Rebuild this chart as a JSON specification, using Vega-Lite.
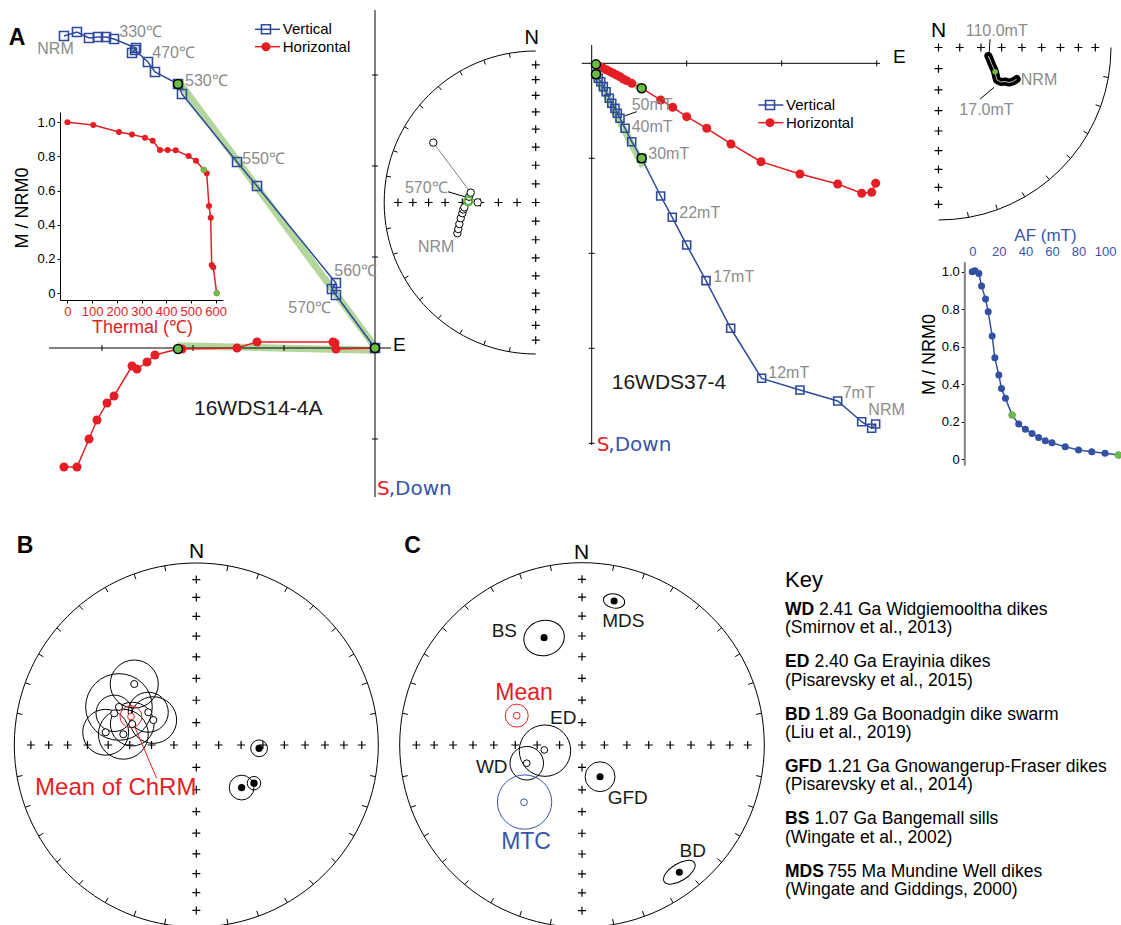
{
"$schema": "https://vega.github.io/schema/vega-lite/v6.json",
"width": 1121,
"height": 925,
"autosize": {"type": "none"},
"padding": 0,
"background": "white",
"config": {
  "view": {"stroke": null},
  "text": {"font": "Liberation Sans"},
  "axis": {"labelFont": "Liberation Sans", "titleFont": "Liberation Sans", "grid": false}
},
"resolve": {
  "scale": {"x": "independent", "y": "independent", "size": "independent", "shape": "independent"},
  "axis": {"x": "independent", "y": "independent"}
},
"datasets": {
  "cross": [{"x":-0.909,"y":0},{"x":-0.811,"y":0},{"x":-0.707,"y":0},{"x":-0.598,"y":0},{"x":-0.484,"y":0},{"x":-0.366,"y":0},{"x":-0.246,"y":0},{"x":-0.123,"y":0},{"x":0,"y":0},{"x":0.123,"y":0},{"x":0.246,"y":0},{"x":0.366,"y":0},{"x":0.484,"y":0},{"x":0.598,"y":0},{"x":0.707,"y":0},{"x":0.811,"y":0},{"x":0.909,"y":0},{"x":0,"y":-0.909},{"x":0,"y":-0.811},{"x":0,"y":-0.707},{"x":0,"y":-0.598},{"x":0,"y":-0.484},{"x":0,"y":-0.366},{"x":0,"y":-0.246},{"x":0,"y":-0.123},{"x":0,"y":0.123},{"x":0,"y":0.246},{"x":0,"y":0.366},{"x":0,"y":0.484},{"x":0,"y":0.598},{"x":0,"y":0.707},{"x":0,"y":0.811},{"x":0,"y":0.909}],
  "z1v": [{"i":1,"x":-3.418,"y":3.429},{"i":2,"x":-3.275,"y":3.473},{"i":3,"x":-3.143,"y":3.407},{"i":4,"x":-3.044,"y":3.418},{"i":5,"x":-2.956,"y":3.418},{"i":6,"x":-2.868,"y":3.396},{"i":7,"x":-2.626,"y":3.297},{"i":8,"x":-2.67,"y":3.242},{"i":9,"x":-2.637,"y":3.275},{"i":10,"x":-2.495,"y":3.143},{"i":11,"x":-2.418,"y":3.033},{"i":12,"x":-2.165,"y":2.901},{"i":13,"x":-2.121,"y":2.791},{"i":14,"x":-1.516,"y":2.044},{"i":15,"x":-1.297,"y":1.78},{"i":16,"x":-0.429,"y":0.714},{"i":17,"x":-0.473,"y":0.648},{"i":18,"x":-0.429,"y":0.582},{"i":19,"x":0,"y":0}],
  "z1h": [{"i":1,"x":-3.418,"y":-1.308},{"i":2,"x":-3.275,"y":-1.308},{"i":3,"x":-3.143,"y":-1.0},{"i":4,"x":-3.055,"y":-0.791},{"i":5,"x":-2.945,"y":-0.604},{"i":6,"x":-2.868,"y":-0.527},{"i":7,"x":-2.67,"y":-0.198},{"i":8,"x":-2.615,"y":-0.231},{"i":9,"x":-2.505,"y":-0.154},{"i":10,"x":-2.418,"y":-0.077},{"i":11,"x":-2.165,"y":-0.011},{"i":12,"x":-2.121,"y":-0.011},{"i":13,"x":-1.516,"y":0.0},{"i":14,"x":-1.297,"y":0.066},{"i":15,"x":-0.462,"y":0.066},{"i":16,"x":-0.44,"y":0.055},{"i":17,"x":-0.429,"y":-0.011},{"i":18,"x":0,"y":0}],
  "th": [{"i":1,"t":0,"m":1.0},{"i":2,"t":104.8,"m":0.984},{"i":3,"t":208.9,"m":0.943},{"i":4,"t":261.5,"m":0.928},{"i":5,"t":314.1,"m":0.91},{"i":6,"t":345.3,"m":0.892},{"i":7,"t":374.9,"m":0.838},{"i":8,"t":406,"m":0.838},{"i":9,"t":438.4,"m":0.836},{"i":10,"t":491,"m":0.802},{"i":11,"t":520.6,"m":0.775},{"i":12,"t":551.8,"m":0.722},{"i":13,"t":564,"m":0.701},{"i":14,"t":573.3,"m":0.51},{"i":15,"t":580.1,"m":0.441},{"i":16,"t":584.2,"m":0.165},{"i":17,"t":590.6,"m":0.151},{"i":18,"t":604.4,"m":0.0}],
  "st1": [{"i":1,"x":-0.517,"y":-0.203},{"i":2,"x":-0.511,"y":-0.175},{"i":3,"x":-0.504,"y":-0.142},{"i":4,"x":-0.495,"y":-0.104},{"i":5,"x":-0.484,"y":-0.071},{"i":6,"x":-0.478,"y":-0.046},{"i":7,"x":-0.471,"y":-0.032},{"i":8,"x":-0.445,"y":0.01},{"i":9,"x":-0.383,"y":0.001},{"i":10,"x":-0.44,"y":0.038},{"i":11,"x":-0.429,"y":0.065},{"i":12,"x":-0.676,"y":0.395}],
  "z2h": [{"i":1,"x":0.045,"y":-0.011},{"i":2,"x":0.087,"y":-0.036},{"i":3,"x":0.122,"y":-0.053},{"i":4,"x":0.158,"y":-0.071},{"i":5,"x":0.193,"y":-0.088},{"i":6,"x":0.227,"y":-0.105},{"i":7,"x":0.263,"y":-0.123},{"i":8,"x":0.298,"y":-0.141},{"i":9,"x":0.333,"y":-0.165},{"i":10,"x":0.368,"y":-0.183},{"i":11,"x":0.421,"y":-0.211},{"i":12,"x":0.526,"y":-0.263},{"i":13,"x":0.726,"y":-0.386},{"i":14,"x":0.853,"y":-0.463},{"i":15,"x":1.0,"y":-0.562},{"i":16,"x":1.211,"y":-0.684},{"i":17,"x":1.466,"y":-0.849},{"i":18,"x":1.782,"y":-1.036},{"i":19,"x":2.192,"y":-1.165},{"i":20,"x":2.589,"y":-1.271},{"i":21,"x":2.842,"y":-1.368},{"i":22,"x":2.947,"y":-1.358},{"i":23,"x":2.989,"y":-1.263}],
  "z2v": [{"i":1,"x":0.045,"y":-0.116},{"i":2,"x":0.069,"y":-0.158},{"i":3,"x":0.095,"y":-0.194},{"i":4,"x":0.122,"y":-0.246},{"i":5,"x":0.151,"y":-0.299},{"i":6,"x":0.185,"y":-0.368},{"i":7,"x":0.211,"y":-0.421},{"i":8,"x":0.245,"y":-0.474},{"i":9,"x":0.269,"y":-0.526},{"i":10,"x":0.298,"y":-0.579},{"i":11,"x":0.351,"y":-0.684},{"i":12,"x":0.421,"y":-0.825},{"i":13,"x":0.526,"y":-1.0},{"i":14,"x":0.726,"y":-1.397},{"i":15,"x":0.848,"y":-1.621},{"i":16,"x":1.0,"y":-1.913},{"i":17,"x":1.203,"y":-2.288},{"i":18,"x":1.463,"y":-2.789},{"i":19,"x":1.789,"y":-3.316},{"i":20,"x":2.192,"y":-3.439},{"i":21,"x":2.589,"y":-3.555},{"i":22,"x":2.842,"y":-3.773},{"i":23,"x":2.947,"y":-3.842},{"i":24,"x":2.989,"y":-3.797}],
  "st2": [{"i":1,"x":0.289,"y":-0.049},{"i":2,"x":0.299,"y":-0.072},{"i":3,"x":0.31,"y":-0.099},{"i":4,"x":0.322,"y":-0.125},{"i":5,"x":0.328,"y":-0.142},{"i":6,"x":0.333,"y":-0.165},{"i":7,"x":0.339,"y":-0.188},{"i":8,"x":0.362,"y":-0.2},{"i":9,"x":0.386,"y":-0.197},{"i":10,"x":0.409,"y":-0.203},{"i":11,"x":0.432,"y":-0.197},{"i":12,"x":0.453,"y":-0.183}],
  "af": [{"i":1,"af":0,"m":1.0},{"i":2,"af":2,"m":1.005},{"i":3,"af":5,"m":0.99},{"i":4,"af":7,"m":0.923},{"i":5,"af":10,"m":0.854},{"i":6,"af":12,"m":0.786},{"i":7,"af":15,"m":0.657},{"i":8,"af":17,"m":0.541},{"i":9,"af":20,"m":0.449},{"i":10,"af":22,"m":0.378},{"i":11,"af":25,"m":0.325},{"i":12,"af":30,"m":0.236},{"i":13,"af":35,"m":0.188},{"i":14,"af":40,"m":0.16},{"i":15,"af":45,"m":0.138},{"i":16,"af":50,"m":0.117},{"i":17,"af":55,"m":0.099},{"i":18,"af":60,"m":0.088},{"i":19,"af":70,"m":0.067},{"i":20,"af":80,"m":0.05},{"i":21,"af":90,"m":0.041},{"i":22,"af":100,"m":0.032},{"i":23,"af":110,"m":0.023}],
  "bcirc": [{"x":-0.341,"y":0.335,"r":0.132},{"x":-0.425,"y":0.209,"r":0.183},{"x":-0.451,"y":0.174,"r":0.1},{"x":-0.264,"y":0.18,"r":0.11},{"x":-0.236,"y":0.137,"r":0.128},{"x":-0.352,"y":0.115,"r":0.12},{"x":-0.498,"y":0.07,"r":0.126},{"x":-0.401,"y":0.059,"r":0.137},{"x":0.345,"y":-0.018,"r":0.046},{"x":0.249,"y":-0.234,"r":0.068},{"x":0.317,"y":-0.21,"r":0.037}],
  "bopen": [{"x":-0.341,"y":0.335},{"x":-0.425,"y":0.209},{"x":-0.451,"y":0.174},{"x":-0.264,"y":0.18},{"x":-0.236,"y":0.137},{"x":-0.352,"y":0.115},{"x":-0.498,"y":0.07},{"x":-0.401,"y":0.059}],
  "bfill": [{"x":0.345,"y":-0.018},{"x":0.249,"y":-0.234},{"x":0.317,"y":-0.21}],
  "cconf": [{"site":"MDS","x":0.176,"y":0.79,"r":0.059,"rot":10},{"site":"BS","x":-0.208,"y":0.587,"r":0.112,"rot":-15},{"site":"GFD","x":0.099,"y":-0.174,"r":0.082,"rot":0},{"site":"BD","x":0.534,"y":-0.698,"r":0.098,"rot":-32},{"site":"ED","x":-0.203,"y":-0.031,"r":0.141,"rot":0},{"site":"WD","x":-0.303,"y":-0.1,"r":0.092,"rot":0}],
  "key": [{"i":0,"code":"WD","desc":"2.41 Ga Widgiemooltha dikes","ref":" (Smirnov et al., 2013)"},{"i":1,"code":"ED","desc":"2.40 Ga Erayinia dikes","ref":"(Pisarevsky et al., 2015)"},{"i":2,"code":"BD","desc":"1.89 Ga Boonadgin dike swarm","ref":"(Liu et al., 2019)"},{"i":3,"code":"GFD","desc":"1.21 Ga Gnowangerup-Fraser dikes","ref":"(Pisarevsky et al., 2014)"},{"i":4,"code":"BS","desc":"1.07 Ga Bangemall sills","ref":"(Wingate et al., 2002)"},{"i":5,"code":"MDS","desc":"755 Ma Mundine Well dikes","ref":"(Wingate and Giddings, 2000)"}]
},
"layer": [
{
  "encoding": {
    "x": {"field": "x", "type": "quantitative", "scale": {"domain": [-1, 0], "range": [284, 375], "nice": false, "zero": false}, "axis": null},
    "y": {"field": "y", "type": "quantitative", "scale": {"domain": [0, 1], "range": [348, 257], "nice": false, "zero": false}, "axis": null}
  },
  "layer": [
    {"data": {"values": [{"x": -2.15, "y": 2.92, "x2": 0.01, "y2": 0}, {"x": -2.17, "y": 0.025, "x2": 0, "y2": -0.025}]}, "mark": {"type": "rule", "color": "#b3d79b", "strokeWidth": 7}, "encoding": {"x2": {"field": "x2"}, "y2": {"field": "y2"}}},
    {"data": {"values": [{"x": -3.582, "y": 0, "x2": 0.176, "y2": 0}, {"x": 0, "y": 3.714, "x2": 0, "y2": -1.637}]}, "mark": {"type": "rule", "color": "black", "strokeWidth": 1}, "encoding": {"x2": {"field": "x2"}, "y2": {"field": "y2"}}},
    {"data": {"values": [{"x": -1, "y": 0}, {"x": -2, "y": 0}, {"x": -3, "y": 0}]}, "mark": {"type": "point", "shape": "M0,-1L0,1", "size": 36, "filled": false, "stroke": "black", "strokeWidth": 1, "opacity": 1}},
    {"data": {"values": [{"x": 0, "y": 1}, {"x": 0, "y": 2}, {"x": 0, "y": 3}, {"x": 0, "y": -1}]}, "mark": {"type": "point", "shape": "M-1,0L1,0", "size": 36, "filled": false, "stroke": "black", "strokeWidth": 1, "opacity": 1}},
    {"data": {"name": "z1h"}, "mark": {"type": "line", "color": "#e31e24", "strokeWidth": 1.5}, "encoding": {"order": {"field": "i", "type": "quantitative"}}},
    {"data": {"name": "z1h"}, "mark": {"type": "point", "shape": "circle", "size": 81, "filled": true, "color": "#e31e24", "opacity": 1}},
    {"data": {"name": "z1v"}, "mark": {"type": "line", "color": "#2e4a9c", "strokeWidth": 1.5}, "encoding": {"order": {"field": "i", "type": "quantitative"}}},
    {"data": {"name": "z1v"}, "mark": {"type": "point", "shape": "square", "size": 81, "filled": false, "stroke": "#2e4a9c", "strokeWidth": 1.6, "opacity": 1}},
    {"data": {"values": [{"x": -2.165, "y": 2.901}, {"x": -2.165, "y": -0.011}, {"x": 0, "y": 0}]}, "mark": {"type": "point", "shape": "circle", "size": 81, "filled": true, "fill": "#6cbd45", "stroke": "black", "strokeWidth": 1.5, "opacity": 1}},
    {"data": {"values": [{"x": -3.711, "y": 3.282, "t": "NRM"}, {"x": -2.81, "y": 3.476, "t": "330℃"}, {"x": -2.447, "y": 3.238, "t": "470℃"}, {"x": -2.088, "y": 2.937, "t": "530℃"}, {"x": -1.458, "y": 2.074, "t": "550℃"}, {"x": -0.447, "y": 0.846, "t": "560℃"}, {"x": -0.953, "y": 0.436, "t": "570℃"}]}, "mark": {"type": "text", "align": "left", "baseline": "middle", "fontSize": 16, "color": "#8c8c8c"}, "encoding": {"text": {"field": "t"}}},
    {"data": {"values": [{"x": -1.319, "y": 3.502, "x2": -1.044, "y2": 3.502}]}, "mark": {"type": "rule", "color": "#2e4a9c", "strokeWidth": 1.5}, "encoding": {"x2": {"field": "x2"}, "y2": {"field": "y2"}}},
    {"data": {"values": [{"x": -1.319, "y": 3.311, "x2": -1.044, "y2": 3.311}]}, "mark": {"type": "rule", "color": "#e31e24", "strokeWidth": 1.5}, "encoding": {"x2": {"field": "x2"}, "y2": {"field": "y2"}}},
    {"data": {"values": [{"x": -1.198, "y": 3.502}]}, "mark": {"type": "point", "shape": "square", "size": 81, "filled": false, "stroke": "#2e4a9c", "strokeWidth": 1.6, "opacity": 1}},
    {"data": {"values": [{"x": -1.198, "y": 3.311}]}, "mark": {"type": "point", "shape": "circle", "size": 81, "filled": true, "color": "#e31e24", "opacity": 1}},
    {"data": {"values": [{"x": -1.014, "y": 3.502, "t": "Vertical"}, {"x": -1.014, "y": 3.311, "t": "Horizontal"}]}, "mark": {"type": "text", "align": "left", "baseline": "middle", "fontSize": 15, "color": "black"}, "encoding": {"text": {"field": "t"}}},
    {"data": {"values": [{"x": -1.989, "y": -0.674, "t": "16WDS14-4A"}]}, "mark": {"type": "text", "align": "left", "baseline": "middle", "fontSize": 21, "color": "#1a1a1a"}, "encoding": {"text": {"field": "t"}}},
    {"data": {"values": [{"x": 0.198, "y": 0.033, "t": "E"}]}, "mark": {"type": "text", "align": "left", "baseline": "middle", "fontSize": 19, "color": "black"}, "encoding": {"text": {"field": "t"}}},
    {"data": {"values": [{"x": -3.934, "y": 3.407, "t": "A"}]}, "mark": {"type": "text", "align": "center", "baseline": "middle", "fontSize": 23, "fontWeight": "bold", "color": "black"}, "encoding": {"text": {"field": "t"}}},
    {"data": {"values": [{"x": 0.022, "y": -1.549, "t": "S"}]}, "mark": {"type": "text", "align": "left", "baseline": "middle", "fontSize": 20, "font": "DejaVu Sans", "color": "#e31e24"}, "encoding": {"text": {"field": "t"}}},
    {"data": {"values": [{"x": 0.15, "y": -1.549, "t": ",Down"}]}, "mark": {"type": "text", "align": "left", "baseline": "middle", "fontSize": 20, "font": "DejaVu Sans", "color": "#3a55a8"}, "encoding": {"text": {"field": "t"}}}
  ]
},
{
  "encoding": {
    "x": {"field": "t", "type": "quantitative", "scale": {"domain": [-30, 630], "range": [60, 223], "nice": false, "zero": false},
      "axis": {"orient": "bottom", "offset": -625, "values": [0, 100, 200, 300, 400, 500, 600], "title": "Thermal (℃)", "titleColor": "#e31e24", "titleFontSize": 18, "titleFontWeight": "normal", "titleX": 142, "titleY": 27, "titleBaseline": "middle", "titleAlign": "center", "labelColor": "#e31e24", "labelFontSize": 13, "labelPadding": 2, "tickSize": 3, "tickColor": "black", "domainColor": "black", "grid": false, "labelFlush": false, "labelOverlap": false, "labelBound": false}},
    "y": {"field": "m", "type": "quantitative", "scale": {"domain": [-0.04, 1.06], "range": [300, 112], "nice": false, "zero": false},
      "axis": {"orient": "left", "offset": -60, "values": [0, 0.2, 0.4, 0.6, 0.8, 1], "labelExpr": "datum.value == 0 ? '0' : format(datum.value, '.1f')", "title": "M / NRM0", "titleColor": "black", "titleFontSize": 18, "titleFontWeight": "normal", "titleX": -37.5, "titleY": 207.5, "titleAngle": 270, "titleAlign": "center", "titleBaseline": "middle", "labelFontSize": 13, "labelColor": "black", "labelPadding": 2, "tickSize": 3, "tickColor": "black", "domainColor": "black", "grid": false, "labelFlush": false, "labelOverlap": false, "labelBound": false}}
  },
  "layer": [
    {"data": {"name": "th"}, "mark": {"type": "line", "color": "#e31e24", "strokeWidth": 1.5}, "encoding": {"order": {"field": "i", "type": "quantitative"}}},
    {"data": {"name": "th"}, "mark": {"type": "point", "shape": "circle", "size": 36, "filled": true, "color": "#e31e24", "opacity": 1}},
    {"data": {"values": [{"t": 551.8, "m": 0.722}, {"t": 604.4, "m": 0.0}]}, "mark": {"type": "point", "shape": "circle", "size": 36, "filled": true, "color": "#6cbd45", "opacity": 1}}
  ]
},
{
  "encoding": {
    "x": {"field": "x", "type": "quantitative", "scale": {"domain": [-1, 1], "range": [384.2, 687.2], "nice": false, "zero": false}, "axis": null},
    "y": {"field": "y", "type": "quantitative", "scale": {"domain": [-1, 1], "range": [354, 51], "nice": false, "zero": false}, "axis": null}
  },
  "layer": [
    {"data": {"values": [{"x": 0, "y": 0}]}, "mark": {"type": "point", "shape": "M0,-1A1,1 0 0 0 0,1M-.174,-.985L-.168,-.955M-.342,-.94L-.332,-.911M-.5,-.866L-.485,-.84M-.643,-.766L-.623,-.743M-.766,-.643L-.743,-.623M-.866,-.5L-.84,-.485M-.94,-.342L-.911,-.332M-.985,-.174L-.955,-.168M-.174,.985L-.168,.955M-.342,.94L-.332,.911M-.5,.866L-.485,.84M-.643,.766L-.623,.743M-.766,.643L-.743,.623M-.866,.5L-.84,.485M-.94,.342L-.911,.332M-.985,.174L-.955,.168", "size": 91809, "filled": false, "stroke": "black", "strokeWidth": 1, "opacity": 1}},
    {"data": {"name": "cross"}, "transform": [{"filter": "datum.x <= 0"}], "mark": {"type": "point", "shape": "M-1,0L1,0M0,-1L0,1", "size": 64, "filled": false, "stroke": "black", "strokeWidth": 1.2, "opacity": 1}},
    {"data": {"name": "st1"}, "mark": {"type": "line", "color": "#7f7f7f", "strokeWidth": 1}, "encoding": {"order": {"field": "i", "type": "quantitative"}}},
    {"data": {"name": "st1"}, "mark": {"type": "point", "shape": "circle", "size": 55, "filled": true, "fill": "white", "stroke": "black", "strokeWidth": 1, "opacity": 1}},
    {"data": {"values": [{"x": -0.445, "y": 0.01}]}, "mark": {"type": "point", "shape": "circle", "size": 70, "filled": false, "stroke": "#5cb83c", "strokeWidth": 2, "opacity": 1}},
    {"data": {"values": [{"x": -0.579, "y": 0.071, "x2": -0.467, "y2": 0.038}]}, "mark": {"type": "rule", "color": "black", "strokeWidth": 1}, "encoding": {"x2": {"field": "x2"}, "y2": {"field": "y2"}}},
    {"data": {"values": [{"x": -0.863, "y": 0.096, "t": "570℃"}, {"x": -0.777, "y": -0.292, "t": "NRM"}]}, "mark": {"type": "text", "align": "left", "baseline": "middle", "fontSize": 16, "color": "#8c8c8c"}, "encoding": {"text": {"field": "t"}}},
    {"data": {"values": [{"x": -0.026, "y": 1.084, "t": "N"}]}, "mark": {"type": "text", "align": "center", "baseline": "middle", "fontSize": 20, "color": "black"}, "encoding": {"text": {"field": "t"}}}
  ]
},
{
  "encoding": {
    "x": {"field": "x", "type": "quantitative", "scale": {"domain": [0, 1], "range": [591.7, 686.7], "nice": false, "zero": false}, "axis": null},
    "y": {"field": "y", "type": "quantitative", "scale": {"domain": [-1, 0], "range": [158.3, 63.3], "nice": false, "zero": false}, "axis": null}
  },
  "layer": [
    {"data": {"values": [{"x": 0.035, "y": -0.105, "x2": 0.543, "y2": -1.088}, {"x": 0.045, "y": -0.011, "x2": 0.562, "y2": -0.28}]}, "mark": {"type": "rule", "color": "#b3d79b", "strokeWidth": 7}, "encoding": {"x2": {"field": "x2"}, "y2": {"field": "y2"}}},
    {"data": {"values": [{"x": -0.105, "y": 0, "x2": 3.035, "y2": 0}, {"x": 0, "y": 0.193, "x2": 0, "y2": -4.018}]}, "mark": {"type": "rule", "color": "black", "strokeWidth": 1}, "encoding": {"x2": {"field": "x2"}, "y2": {"field": "y2"}}},
    {"data": {"values": [{"x": 1, "y": 0}, {"x": 2, "y": 0}, {"x": 3, "y": 0}]}, "mark": {"type": "point", "shape": "M0,-1L0,1", "size": 36, "filled": false, "stroke": "black", "strokeWidth": 1, "opacity": 1}},
    {"data": {"values": [{"x": 0, "y": -1}, {"x": 0, "y": -2}, {"x": 0, "y": -3}, {"x": 0, "y": -4}]}, "mark": {"type": "point", "shape": "M-1,0L1,0", "size": 36, "filled": false, "stroke": "black", "strokeWidth": 1, "opacity": 1}},
    {"data": {"name": "z2h"}, "mark": {"type": "line", "color": "#e31e24", "strokeWidth": 1.5}, "encoding": {"order": {"field": "i", "type": "quantitative"}}},
    {"data": {"name": "z2h"}, "mark": {"type": "point", "shape": "circle", "size": 81, "filled": true, "color": "#e31e24", "opacity": 1}},
    {"data": {"name": "z2v"}, "mark": {"type": "line", "color": "#2e4a9c", "strokeWidth": 1.5}, "encoding": {"order": {"field": "i", "type": "quantitative"}}},
    {"data": {"name": "z2v"}, "mark": {"type": "point", "shape": "square", "size": 64, "filled": false, "stroke": "#2e4a9c", "strokeWidth": 1.6, "opacity": 1}},
    {"data": {"values": [{"x": 0.045, "y": -0.011}, {"x": 0.526, "y": -0.263}, {"x": 0.045, "y": -0.116}, {"x": 0.526, "y": -1.0}]}, "mark": {"type": "point", "shape": "circle", "size": 81, "filled": true, "fill": "#6cbd45", "stroke": "black", "strokeWidth": 1.5, "opacity": 1}},
    {"data": {"values": [{"x": 0.474, "y": -0.509, "x2": 0.351, "y2": -0.553}]}, "mark": {"type": "rule", "color": "black", "strokeWidth": 1}, "encoding": {"x2": {"field": "x2"}, "y2": {"field": "y2"}}},
    {"data": {"values": [{"x": 0.421, "y": -0.439, "t": "50mT"}, {"x": 0.421, "y": -0.667, "t": "40mT"}, {"x": 0.596, "y": -0.958, "t": "30mT"}, {"x": 0.922, "y": -1.579, "t": "22mT"}, {"x": 1.28, "y": -2.246, "t": "17mT"}, {"x": 1.859, "y": -3.257, "t": "12mT"}, {"x": 2.642, "y": -3.474, "t": "7mT"}, {"x": 2.912, "y": -3.649, "t": "NRM"}]}, "mark": {"type": "text", "align": "left", "baseline": "middle", "fontSize": 16, "color": "#8c8c8c"}, "encoding": {"text": {"field": "t"}}},
    {"data": {"values": [{"x": 1.754, "y": -0.439, "x2": 2.017, "y2": -0.439}]}, "mark": {"type": "rule", "color": "#2e4a9c", "strokeWidth": 1.5}, "encoding": {"x2": {"field": "x2"}, "y2": {"field": "y2"}}},
    {"data": {"values": [{"x": 1.754, "y": -0.625, "x2": 2.017, "y2": -0.625}]}, "mark": {"type": "rule", "color": "#e31e24", "strokeWidth": 1.5}, "encoding": {"x2": {"field": "x2"}, "y2": {"field": "y2"}}},
    {"data": {"values": [{"x": 1.877, "y": -0.439}]}, "mark": {"type": "point", "shape": "square", "size": 81, "filled": false, "stroke": "#2e4a9c", "strokeWidth": 1.6, "opacity": 1}},
    {"data": {"values": [{"x": 1.877, "y": -0.625}]}, "mark": {"type": "point", "shape": "circle", "size": 81, "filled": true, "color": "#e31e24", "opacity": 1}},
    {"data": {"values": [{"x": 2.045, "y": -0.439, "t": "Vertical"}, {"x": 2.045, "y": -0.625, "t": "Horizontal"}]}, "mark": {"type": "text", "align": "left", "baseline": "middle", "fontSize": 15, "color": "black"}, "encoding": {"text": {"field": "t"}}},
    {"data": {"values": [{"x": 0.211, "y": -3.368, "t": "16WDS37-4"}]}, "mark": {"type": "text", "align": "left", "baseline": "middle", "fontSize": 21, "color": "#1a1a1a"}, "encoding": {"text": {"field": "t"}}},
    {"data": {"values": [{"x": 3.172, "y": 0.066, "t": "E"}]}, "mark": {"type": "text", "align": "left", "baseline": "middle", "fontSize": 19, "color": "black"}, "encoding": {"text": {"field": "t"}}},
    {"data": {"values": [{"x": 0.053, "y": -4.015, "t": "S"}]}, "mark": {"type": "text", "align": "left", "baseline": "middle", "fontSize": 20, "font": "DejaVu Sans", "color": "#e31e24"}, "encoding": {"text": {"field": "t"}}},
    {"data": {"values": [{"x": 0.175, "y": -4.015, "t": ",Down"}]}, "mark": {"type": "text", "align": "left", "baseline": "middle", "fontSize": 20, "font": "DejaVu Sans", "color": "#3a55a8"}, "encoding": {"text": {"field": "t"}}}
  ]
},
{
  "encoding": {
    "x": {"field": "x", "type": "quantitative", "scale": {"domain": [0, 1], "range": [938.5, 1111], "nice": false, "zero": false}, "axis": null},
    "y": {"field": "y", "type": "quantitative", "scale": {"domain": [-1, 0], "range": [220, 47.5], "nice": false, "zero": false}, "axis": null}
  },
  "layer": [
    {"data": {"values": [{"x": 0, "y": 0}]}, "mark": {"type": "point", "shape": "M1,0L.996,.087L.985,.174L.966,.259L.94,.342L.906,.423L.866,.5L.819,.574L.766,.643L.707,.707L.643,.766L.574,.819L.5,.866L.423,.906L.342,.94L.259,.966L.174,.985L.087,.996L0,1M.174,.985L.168,.955M.342,.94L.332,.911M.5,.866L.485,.84M.643,.766L.623,.743M.766,.643L.743,.623M.866,.5L.84,.485M.94,.342L.911,.332M.985,.174L.955,.168", "size": 119025, "filled": false, "stroke": "black", "strokeWidth": 1, "opacity": 1}},
    {"data": {"name": "cross"}, "transform": [{"filter": "datum.x >= 0 && datum.y <= 0"}], "mark": {"type": "point", "shape": "M-1,0L1,0M0,-1L0,1", "size": 64, "filled": false, "stroke": "black", "strokeWidth": 1.2, "opacity": 1}},
    {"data": {"name": "st2"}, "mark": {"type": "line", "color": "black", "strokeWidth": 8, "strokeCap": "round", "strokeJoin": "round"}, "encoding": {"order": {"field": "i", "type": "quantitative"}}},
    {"data": {"name": "st2"}, "mark": {"type": "line", "color": "#bdbdbd", "strokeWidth": 1}, "encoding": {"order": {"field": "i", "type": "quantitative"}}},
    {"data": {"values": [{"x": 0.328, "y": -0.14}]}, "mark": {"type": "point", "shape": "circle", "size": 30, "filled": true, "color": "#6cbd45", "opacity": 1}},
    {"data": {"values": [{"x": 0.299, "y": 0.048, "x2": 0.294, "y2": -0.025}, {"x": 0.241, "y": -0.299, "x2": 0.322, "y2": -0.231}]}, "mark": {"type": "rule", "color": "black", "strokeWidth": 1}, "encoding": {"x2": {"field": "x2"}, "y2": {"field": "y2"}}},
    {"data": {"values": [{"x": 0.158, "y": 0.097, "t": "110.0mT"}, {"x": 0.477, "y": -0.188, "t": "NRM"}, {"x": 0.121, "y": -0.362, "t": "17.0mT"}]}, "mark": {"type": "text", "align": "left", "baseline": "middle", "fontSize": 16, "color": "#8c8c8c"}, "encoding": {"text": {"field": "t"}}},
    {"data": {"values": [{"x": 0, "y": 0.097, "t": "N"}]}, "mark": {"type": "text", "align": "center", "baseline": "middle", "fontSize": 21, "color": "black"}, "encoding": {"text": {"field": "t"}}}
  ]
},
{
  "encoding": {
    "x": {"field": "af", "type": "quantitative", "scale": {"domain": [-6, 112], "range": [964.3, 1121], "nice": false, "zero": false},
      "axis": {"orient": "top", "offset": -261.7, "values": [0, 20, 40, 60, 80, 100], "domain": false, "ticks": false, "labelColor": "#3a55a8", "labelFontSize": 13, "labelPadding": 3, "title": "AF (mT)", "titleColor": "#3a55a8", "titleFontSize": 17, "titleFontWeight": "normal", "titleX": 1045, "titleY": -26.7, "titleBaseline": "middle", "titleAlign": "center", "grid": false, "labelFlush": false, "labelOverlap": false, "labelBound": false}},
    "y": {"field": "m", "type": "quantitative", "scale": {"domain": [-0.03, 1.053], "range": [465, 261.7], "nice": false, "zero": false},
      "axis": {"orient": "left", "offset": -964.3, "values": [0, 0.2, 0.4, 0.6, 0.8, 1], "labelExpr": "datum.value == 0 ? '0' : format(datum.value, '.1f')", "domainColor": "#7f7f7f", "domainWidth": 2, "tickColor": "black", "tickSize": 3, "labelFontSize": 13, "labelColor": "black", "labelPadding": 2, "title": "M / NRM0", "titleColor": "black", "titleFontSize": 18, "titleFontWeight": "normal", "titleX": -35, "titleY": 354, "titleAngle": 270, "titleAlign": "center", "titleBaseline": "middle", "grid": false, "labelFlush": false, "labelOverlap": false, "labelBound": false}}
  },
  "layer": [
    {"data": {"name": "af"}, "mark": {"type": "line", "color": "#3450a4", "strokeWidth": 1.5}, "encoding": {"order": {"field": "i", "type": "quantitative"}}},
    {"data": {"name": "af"}, "mark": {"type": "point", "shape": "circle", "size": 49, "filled": true, "color": "#3450a4", "opacity": 1}},
    {"data": {"values": [{"af": 30, "m": 0.236}, {"af": 110, "m": 0.023}]}, "mark": {"type": "point", "shape": "circle", "size": 49, "filled": true, "color": "#6cbd45", "opacity": 1}}
  ]
},
{
  "encoding": {
    "x": {"field": "x", "type": "quantitative", "scale": {"domain": [-1, 1], "range": [14.3, 378.3], "nice": false, "zero": false}, "axis": null},
    "y": {"field": "y", "type": "quantitative", "scale": {"domain": [-1, 1], "range": [927, 563], "nice": false, "zero": false}, "axis": null}
  },
  "layer": [
    {"data": {"values": [{"x": 0, "y": 0}]}, "mark": {"type": "point", "shape": "M0,-1A1,1 0 0 1 0,1A1,1 0 0 1 0,-1M-.174,-.985L-.168,-.955M-.342,-.94L-.332,-.911M-.5,-.866L-.485,-.84M-.643,-.766L-.623,-.743M-.766,-.643L-.743,-.623M-.866,-.5L-.84,-.485M-.94,-.342L-.911,-.332M-.985,-.174L-.955,-.168M-.174,.985L-.168,.955M-.342,.94L-.332,.911M-.5,.866L-.485,.84M-.643,.766L-.623,.743M-.766,.643L-.743,.623M-.866,.5L-.84,.485M-.94,.342L-.911,.332M-.985,.174L-.955,.168M.174,-.985L.168,-.955M.342,-.94L.332,-.911M.5,-.866L.485,-.84M.643,-.766L.623,-.743M.766,-.643L.743,-.623M.866,-.5L.84,-.485M.94,-.342L.911,-.332M.985,-.174L.955,-.168M.174,.985L.168,.955M.342,.94L.332,.911M.5,.866L.485,.84M.643,.766L.623,.743M.766,.643L.743,.623M.866,.5L.84,.485M.94,.342L.911,.332M.985,.174L.955,.168", "size": 132496, "filled": false, "stroke": "black", "strokeWidth": 1, "opacity": 1}},
    {"data": {"name": "cross"}, "mark": {"type": "point", "shape": "M-1,0L1,0M0,-1L0,1", "size": 64, "filled": false, "stroke": "black", "strokeWidth": 1.2, "opacity": 1}},
    {"data": {"name": "bcirc"}, "mark": {"type": "point", "shape": "circle", "filled": false, "stroke": "black", "strokeWidth": 1, "opacity": 1}, "encoding": {"size": {"field": "r", "type": "quantitative", "scale": {"type": "pow", "exponent": 2, "domain": [0, 1], "range": [0, 132496], "zero": true}, "legend": null}}},
    {"data": {"values": [{"x": -0.359, "y": 0.156, "r": 0.06}]}, "mark": {"type": "point", "shape": "circle", "filled": false, "stroke": "#e31e24", "strokeWidth": 1, "opacity": 1}, "encoding": {"size": {"field": "r", "type": "quantitative", "scale": {"type": "pow", "exponent": 2, "domain": [0, 1], "range": [0, 132496], "zero": true}, "legend": null}}},
    {"data": {"name": "bopen"}, "mark": {"type": "point", "shape": "circle", "size": 50, "filled": true, "fill": "white", "stroke": "black", "strokeWidth": 1, "opacity": 1}},
    {"data": {"name": "bfill"}, "mark": {"type": "point", "shape": "circle", "size": 53, "filled": true, "color": "black", "opacity": 1}},
    {"data": {"values": [{"x": -0.359, "y": 0.156}]}, "mark": {"type": "point", "shape": "circle", "size": 45, "filled": true, "fill": "white", "stroke": "#e31e24", "strokeWidth": 1, "opacity": 1}},
    {"data": {"values": [{"x": -0.337, "y": 0.097, "x2": -0.218, "y2": -0.183}]}, "mark": {"type": "rule", "color": "#e31e24", "strokeWidth": 1}, "encoding": {"x2": {"field": "x2"}, "y2": {"field": "y2"}}},
    {"data": {"values": [{"x": -0.886, "y": -0.238, "t": "Mean of ChRM"}]}, "mark": {"type": "text", "align": "left", "baseline": "middle", "fontSize": 24, "color": "#e31e24"}, "encoding": {"text": {"field": "t"}}},
    {"data": {"values": [{"x": 0.002, "y": 1.062, "t": "N"}]}, "mark": {"type": "text", "align": "center", "baseline": "middle", "fontSize": 21, "color": "black"}, "encoding": {"text": {"field": "t"}}},
    {"data": {"values": [{"x": -0.941, "y": 1.093, "t": "B"}]}, "mark": {"type": "text", "align": "center", "baseline": "middle", "fontSize": 23, "fontWeight": "bold", "color": "black"}, "encoding": {"text": {"field": "t"}}}
  ]
},
{
  "encoding": {
    "x": {"field": "x", "type": "quantitative", "scale": {"domain": [-1, 1], "range": [399.7, 764.3], "nice": false, "zero": false}, "axis": null},
    "y": {"field": "y", "type": "quantitative", "scale": {"domain": [-1, 1], "range": [927.3, 562.7], "nice": false, "zero": false}, "axis": null}
  },
  "layer": [
    {"data": {"values": [{"x": 0, "y": 0}]}, "mark": {"type": "point", "shape": "M0,-1A1,1 0 0 1 0,1A1,1 0 0 1 0,-1M-.174,-.985L-.168,-.955M-.342,-.94L-.332,-.911M-.5,-.866L-.485,-.84M-.643,-.766L-.623,-.743M-.766,-.643L-.743,-.623M-.866,-.5L-.84,-.485M-.94,-.342L-.911,-.332M-.985,-.174L-.955,-.168M-.174,.985L-.168,.955M-.342,.94L-.332,.911M-.5,.866L-.485,.84M-.643,.766L-.623,.743M-.766,.643L-.743,.623M-.866,.5L-.84,.485M-.94,.342L-.911,.332M-.985,.174L-.955,.168M.174,-.985L.168,-.955M.342,-.94L.332,-.911M.5,-.866L.485,-.84M.643,-.766L.623,-.743M.766,-.643L.743,-.623M.866,-.5L.84,-.485M.94,-.342L.911,-.332M.985,-.174L.955,-.168M.174,.985L.168,.955M.342,.94L.332,.911M.5,.866L.485,.84M.643,.766L.623,.743M.766,.643L.743,.623M.866,.5L.84,.485M.94,.342L.911,.332M.985,.174L.955,.168", "size": 132933, "filled": false, "stroke": "black", "strokeWidth": 1, "opacity": 1}},
    {"data": {"name": "cross"}, "mark": {"type": "point", "shape": "M-1,0L1,0M0,-1L0,1", "size": 64, "filled": false, "stroke": "black", "strokeWidth": 1.2, "opacity": 1}},
    {"data": {"name": "cconf"}, "mark": {"type": "point", "filled": false, "stroke": "black", "strokeWidth": 1, "opacity": 1},
      "encoding": {
        "size": {"field": "r", "type": "quantitative", "scale": {"type": "pow", "exponent": 2, "domain": [0, 1], "range": [0, 132933], "zero": true}, "legend": null},
        "shape": {"field": "site", "type": "nominal", "scale": {"domain": ["MDS", "BS", "BD", "GFD", "ED", "WD"], "range": ["M-1,0A1,.65 0 1 1 1,0A1,.65 0 1 1 -1,0", "M-1,0A1,.86 0 1 1 1,0A1,.86 0 1 1 -1,0", "M-1,0A1,.48 0 1 1 1,0A1,.48 0 1 1 -1,0", "circle", "circle", "circle"]}, "legend": null},
        "angle": {"field": "rot", "type": "quantitative", "scale": null}
      }},
    {"data": {"values": [{"x": -0.358, "y": 0.161, "r": 0.063}]}, "mark": {"type": "point", "shape": "circle", "filled": false, "stroke": "#e31e24", "strokeWidth": 1, "opacity": 1}, "encoding": {"size": {"field": "r", "type": "quantitative", "scale": {"type": "pow", "exponent": 2, "domain": [0, 1], "range": [0, 132933], "zero": true}, "legend": null}}},
    {"data": {"values": [{"x": -0.315, "y": -0.313, "r": 0.149}]}, "mark": {"type": "point", "shape": "circle", "filled": false, "stroke": "#3a55a8", "strokeWidth": 1, "opacity": 1}, "encoding": {"size": {"field": "r", "type": "quantitative", "scale": {"type": "pow", "exponent": 2, "domain": [0, 1], "range": [0, 132933], "zero": true}, "legend": null}}},
    {"data": {"values": [{"x": -0.207, "y": -0.027}, {"x": -0.303, "y": -0.1}]}, "mark": {"type": "point", "shape": "circle", "size": 45, "filled": true, "fill": "white", "stroke": "black", "strokeWidth": 1, "opacity": 1}},
    {"data": {"values": [{"x": -0.358, "y": 0.161}]}, "mark": {"type": "point", "shape": "circle", "size": 45, "filled": true, "fill": "white", "stroke": "#e31e24", "strokeWidth": 1, "opacity": 1}},
    {"data": {"values": [{"x": -0.318, "y": -0.314}]}, "mark": {"type": "point", "shape": "circle", "size": 45, "filled": true, "fill": "white", "stroke": "#3a55a8", "strokeWidth": 1, "opacity": 1}},
    {"data": {"values": [{"x": 0.176, "y": 0.79}, {"x": -0.208, "y": 0.589}, {"x": 0.099, "y": -0.174}, {"x": 0.534, "y": -0.698}]}, "mark": {"type": "point", "shape": "circle", "size": 50, "filled": true, "color": "black", "opacity": 1}},
    {"data": {"values": [{"x": 0.227, "y": 0.682, "t": "MDS"}, {"x": -0.426, "y": 0.625, "t": "BS"}, {"x": -0.103, "y": 0.146, "t": "ED"}, {"x": -0.495, "y": -0.122, "t": "WD"}, {"x": 0.251, "y": -0.289, "t": "GFD"}, {"x": 0.607, "y": -0.58, "t": "BD"}]}, "mark": {"type": "text", "align": "center", "baseline": "middle", "fontSize": 19, "color": "#1a1a1a"}, "encoding": {"text": {"field": "t"}}},
    {"data": {"values": [{"x": -0.318, "y": 0.284, "t": "Mean"}]}, "mark": {"type": "text", "align": "center", "baseline": "middle", "fontSize": 23, "color": "#e31e24"}, "encoding": {"text": {"field": "t"}}},
    {"data": {"values": [{"x": -0.307, "y": -0.53, "t": "MTC"}]}, "mark": {"type": "text", "align": "center", "baseline": "middle", "fontSize": 23, "color": "#3a55a8"}, "encoding": {"text": {"field": "t"}}},
    {"data": {"values": [{"x": -0.002, "y": 1.055, "t": "N"}]}, "mark": {"type": "text", "align": "center", "baseline": "middle", "fontSize": 21, "color": "black"}, "encoding": {"text": {"field": "t"}}},
    {"data": {"values": [{"x": -0.929, "y": 1.092, "t": "C"}]}, "mark": {"type": "text", "align": "center", "baseline": "middle", "fontSize": 23, "fontWeight": "bold", "color": "black"}, "encoding": {"text": {"field": "t"}}}
  ]
},
{
  "encoding": {
    "x": {"datum": 0, "type": "quantitative", "scale": {"domain": [0, 1], "range": [785, 1100], "nice": false, "zero": false}, "axis": null},
    "y": {"field": "i", "type": "quantitative", "scale": {"domain": [0, 5], "range": [610, 871.7], "nice": false, "zero": false}, "axis": null}
  },
  "layer": [
    {"data": {"values": [{"i": -0.57, "t": "Key"}]}, "mark": {"type": "text", "align": "left", "baseline": "middle", "fontSize": 22, "color": "black"}, "encoding": {"text": {"field": "t"}}},
    {"data": {"name": "key"}, "mark": {"type": "text", "align": "left", "baseline": "middle", "fontSize": 17.5, "fontWeight": "bold", "color": "black"}, "encoding": {"text": {"field": "code"}}},
    {"data": {"name": "key"}, "transform": [{"filter": "datum.code == 'WD'"}], "mark": {"type": "text", "align": "left", "baseline": "middle", "fontSize": 17.5, "dx": 34, "color": "black"}, "encoding": {"text": {"field": "desc"}}},
    {"data": {"name": "key"}, "transform": [{"filter": "datum.code == 'ED' || datum.code == 'BD' || datum.code == 'BS'"}], "mark": {"type": "text", "align": "left", "baseline": "middle", "fontSize": 17.5, "dx": 29.5, "color": "black"}, "encoding": {"text": {"field": "desc"}}},
    {"data": {"name": "key"}, "transform": [{"filter": "datum.code == 'GFD' || datum.code == 'MDS'"}], "mark": {"type": "text", "align": "left", "baseline": "middle", "fontSize": 17.5, "dx": 42.5, "color": "black"}, "encoding": {"text": {"field": "desc"}}},
    {"data": {"name": "key"}, "mark": {"type": "text", "align": "left", "baseline": "middle", "fontSize": 17.5, "dy": 18.3, "color": "black"}, "encoding": {"text": {"field": "ref"}}}
  ]
}
]
}
